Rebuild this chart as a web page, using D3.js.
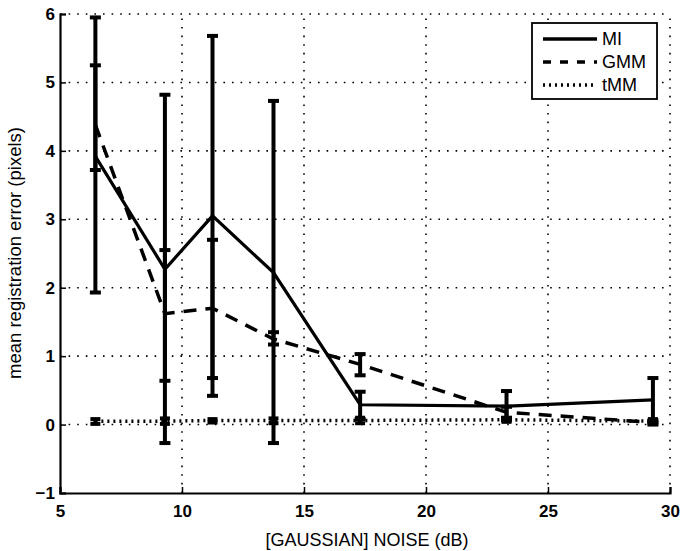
<html>
<head>
<meta charset="utf-8">
<style>
  body { margin: 0; background: #fff; }
  text { font-family: "Liberation Sans", Arial, sans-serif; }
</style>
</head>
<body>
<svg width="680" height="551"></svg>
<script src="https://cdn.jsdelivr.net/npm/d3@7"></script>
<script>
// noise levels (dB)
const noise = [6.45, 9.3, 11.25, 13.75, 17.3, 23.3, 29.3];

const mi_mean  = [3.92, 2.27, 3.05, 2.22, 0.29, 0.27, 0.36];
const mi_low   = [1.93, -0.27, 0.42, -0.27, 0.08, 0.06, 0.03];
const mi_high  = [5.95, 4.82, 5.68, 4.73, 0.48, 0.49, 0.68];

const gmm_mean = [4.38, 1.62, 1.70, 1.25, 0.88, 0.18, 0.03];
const gmm_low  = [3.72, 0.64, 0.68, 1.17, 0.72, 0.10, 0.00];
const gmm_high = [5.25, 2.55, 2.70, 1.35, 1.03, 0.26, 0.06];

const tmm_mean = [0.05, 0.05, 0.06, 0.06, 0.06, 0.07, 0.05];
const tmm_low  = [0.01, 0.01, 0.03, 0.02, 0.02, 0.04, 0.02];
const tmm_high = [0.08, 0.09, 0.08, 0.09, 0.10, 0.09, 0.08];

const x_ticks = [5, 10, 15, 20, 25, 30];
const y_ticks = [-1, 0, 1, 2, 3, 4, 5, 6];

let svg = d3.select("svg");

const m_left = 60, m_right = 670, m_top = 14, m_bottom = 493;

let x = d3.scaleLinear().domain([5, 30]).range([m_left, m_right]);
let y = d3.scaleLinear().domain([-1, 6]).range([m_bottom, m_top]);

// grid
let grid = svg.append("g").attr("stroke", "#000").attr("stroke-width", 1.6)
  .attr("stroke-dasharray", "1.6,7");
x_ticks.slice(1).forEach(t => {
  grid.append("line").attr("x1", x(t)).attr("x2", x(t)).attr("y1", m_bottom).attr("y2", m_top);
});
y_ticks.slice(1).forEach(t => {
  grid.append("line").attr("x1", m_left).attr("x2", m_right).attr("y1", y(t)).attr("y2", y(t));
});

// axes (inward ticks)
let xAxis = svg.append("g").attr("transform", "translate(0," + m_bottom + ")")
  .call(d3.axisBottom(x).tickValues(x_ticks).tickSize(-6).tickPadding(12).tickFormat(d3.format("d")));
let yAxis = svg.append("g").attr("transform", "translate(" + m_left + ",0)")
  .call(d3.axisLeft(y).tickValues(y_ticks).tickSize(-6).tickPadding(5).tickFormat(d3.format("d")));
[xAxis, yAxis].forEach(a => {
  a.select(".domain").attr("stroke-width", 2.2);
  a.selectAll(".tick line").attr("stroke-width", 1.5);
  a.selectAll(".tick text").attr("font-size", 17).attr("font-weight", "bold")
    .attr("font-family", "Liberation Sans, Arial, sans-serif");
});

// series
function series(mean, low, high, dash, width, capw) {
  let g = svg.append("g");
  let line = d3.line().x((d, i) => x(noise[i])).y(d => y(d));
  g.append("path").attr("d", line(mean)).attr("fill", "none")
    .attr("stroke", "#000").attr("stroke-width", width)
    .attr("stroke-dasharray", dash);
  noise.forEach((n, i) => {
    g.append("line").attr("x1", x(n)).attr("x2", x(n))
      .attr("y1", y(low[i])).attr("y2", y(high[i]))
      .attr("stroke", "#000").attr("stroke-width", 4);
    [low[i], high[i]].forEach(v => {
      g.append("line").attr("x1", x(n) - capw / 2).attr("x2", x(n) + capw / 2)
        .attr("y1", y(v)).attr("y2", y(v))
        .attr("stroke", "#000").attr("stroke-width", 4);
    });
  });
}

series(tmm_mean, tmm_low, tmm_high, "2,4", 3.5, 10);
series(gmm_mean, gmm_low, gmm_high, "13,9", 3.5, 11);
series(mi_mean, mi_low, mi_high, null, 3.2, 11);

// legend
let lg = svg.append("g");
lg.append("rect").attr("x", 532).attr("y", 23).attr("width", 125).attr("height", 76)
  .attr("fill", "#fff").attr("stroke", "#000").attr("stroke-width", 1.8);
const legend_names = ["MI", "GMM", "tMM"];
const legend_dash = [null, "8,9", "2,4"];
legend_names.forEach((name, i) => {
  let ly = 39 + i * 23;
  lg.append("line").attr("x1", 543).attr("x2", 597).attr("y1", ly).attr("y2", ly)
    .attr("stroke", "#000").attr("stroke-width", 3.5).attr("stroke-dasharray", legend_dash[i]);
  lg.append("text").attr("x", 602).attr("y", ly).attr("dy", "0.36em")
    .attr("font-size", 18).text(name);
});

// axis labels
svg.append("text").attr("x", 367).attr("y", 546).attr("text-anchor", "middle")
  .attr("font-size", 18).text("[GAUSSIAN] NOISE (dB)");
svg.append("text").attr("transform", "translate(21,253) rotate(-90)")
  .attr("text-anchor", "middle").attr("font-size", 18.5)
  .text("mean registration error (pixels)");
</script>
</body>
</html>
